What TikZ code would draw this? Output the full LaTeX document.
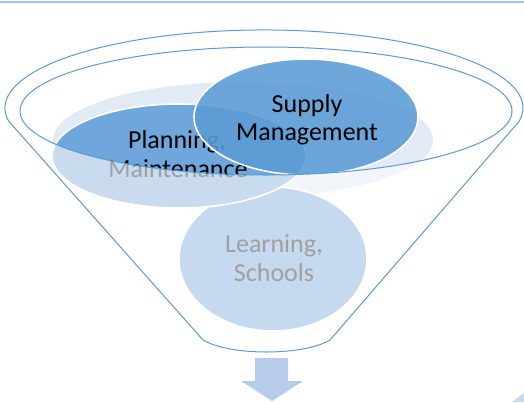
\documentclass[tikz,border=0pt]{standalone}
\usepackage{fontspec}
\setmainfont{Carlito}
\definecolor{rimblue}{HTML}{5B9BD5}
\definecolor{toplinec}{HTML}{9DC3E6}
\definecolor{bgpale}{HTML}{F2F6FB}
\definecolor{bgdark}{HTML}{E2EAF5}
\definecolor{learnfill}{HTML}{C5DAEF}
\definecolor{planlight}{HTML}{C8DBEF}
\definecolor{plandark}{HTML}{6FA6DB}
\definecolor{supplyfill}{HTML}{5B9BD5}
\definecolor{graytext}{HTML}{A0A0A0}
\definecolor{arrowfill}{HTML}{B7CCE8}
\begin{document}
\begin{tikzpicture}[x=1pt,y=-1pt,
  rim/.style={draw=rimblue, line width=1pt, line join=round},
  disc/.style={draw=white, line width=1.6pt},
  lbl/.style={font=\fontsize{26}{28}\selectfont, inner sep=0pt, anchor=base},
  dimlbl/.style={lbl, text=graytext},
]
\useasboundingbox (0,0) rectangle (524,402);
\fill[white] (0,0) rectangle (524,402);
% top rule
\draw[toplinec, line width=2.5pt] (0,2) -- (524,2);

% layer seen through the funnel glass (light)
\fill[bgpale] (243,140) ellipse [x radius=190, y radius=58];
\filldraw[disc, fill=learnfill] (273,259) ellipse [x radius=94, y radius=72];
\node[dimlbl] (learn1) at (274,252) {Learning,};
\node[dimlbl] (learn2) at (274,281) {Schools};
\filldraw[disc, fill=planlight] (179,156) ellipse [x radius=127, y radius=52];
\node[dimlbl] (plan1g) at (177,148) {Planning,};
\node[dimlbl] (plan2g) at (178,177) {Maintenance};

% layer inside the funnel rim (saturated)
\begin{scope}
  \clip (266,111) ellipse [x radius=246, y radius=64];
  \fill[bgdark] (243,140) ellipse [x radius=190, y radius=58];
  \filldraw[disc, fill=plandark] (179,156) ellipse [x radius=127, y radius=52];
  \node[lbl] (plan1) at (177,148) {Planning,};
  \node[lbl] (plan2) at (178,177) {Maintenance};
  \fill[supplyfill, fill opacity=0.88] (306,117) ellipse [x radius=112, y radius=58];
  \draw[disc] (306,117) ellipse [x radius=112, y radius=58];
  \node[lbl] (sup1) at (307,112) {Supply};
  \node[lbl] (sup2) at (307,140) {Management};
\end{scope}

% funnel outline
\draw[rim] (266,111) ellipse [x radius=246, y radius=64];
\draw[rim] (9,121.5) -- (203,340) .. controls (230,356) and (303,356) .. (330,340)
  -- (519,121.5) arc[start angle=10, end angle=-190, x radius=259, y radius=78];

% output arrow
\fill[arrowfill] (255,358) -- (288,358) -- (288,381) -- (303,381) -- (272,401)
  -- (241,381) -- (255,381) -- cycle;
% corner fragment
\fill[learnfill] (512,402) -- (524,393) -- (524,402) -- cycle;
\end{tikzpicture}
\end{document}
